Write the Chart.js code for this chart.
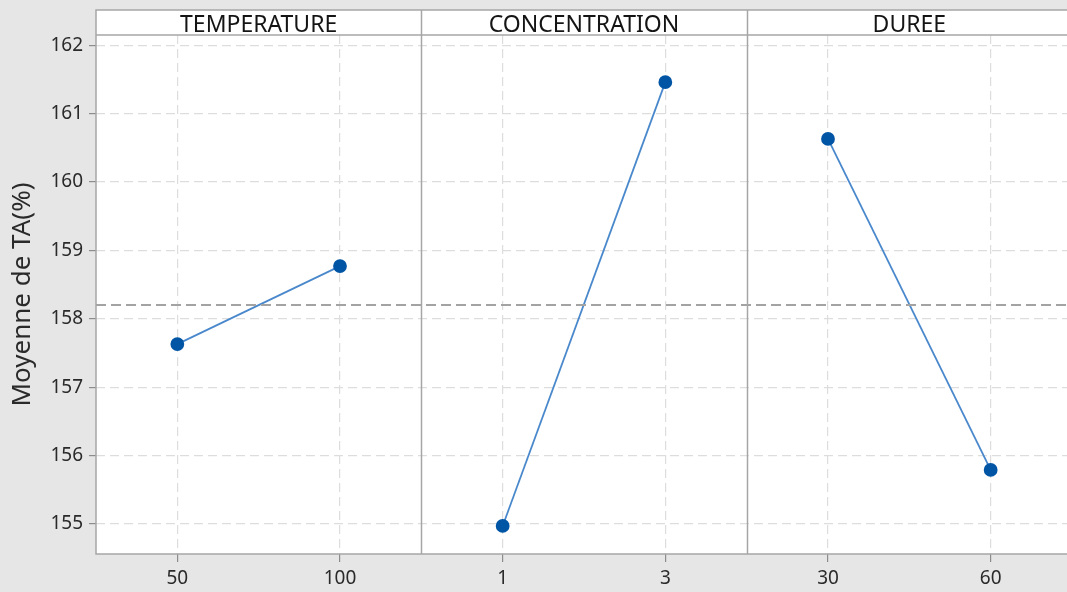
<!DOCTYPE html>
<html><head><meta charset="utf-8">
<script src="https://cdn.jsdelivr.net/npm/chart.js@4.4.1/dist/chart.umd.min.js"></script>
<style>
html,body{margin:0;padding:0;background:#e6e6e6;overflow:hidden;width:1067px;height:592px;}
canvas{display:block;}
</style></head><body>
<canvas id="c" width="1080" height="592"></canvas>
<script>
const factors = ['TEMPERATURE', 'CONCENTRATION', 'DUREE'];
const levels = [['50', '100'], ['1', '3'], ['30', '60']];
const means = [[157.63, 158.77], [154.97, 161.46], [160.63, 155.79]];
const grandMean = 158.2;
const yTicks = [155, 156, 157, 158, 159, 160, 161, 162];
const yMin = 154.56, yMax = 162.15;

const xTickLabels = levels.flat();
const xTickPos = [];
factors.forEach((f, p) => levels[p].forEach((l, i) => xTickPos.push(p + 0.25 + i * 0.5)));

const datasets = factors.map((f, p) => ({
  label: f,
  data: means[p].map((v, i) => ({x: p + 0.25 + i * 0.5, y: v})),
  borderColor: '#4a88cc',
  borderWidth: 1.8,
  pointBackgroundColor: '#0055a5',
  pointBorderColor: '#0055a5',
  pointRadius: 6,
  pointHoverRadius: 6,
  tension: 0
}));
datasets.unshift({
  label: 'mean',
  data: [{x: 0, y: grandMean}, {x: factors.length, y: grandMean}],
  borderColor: '#a3a3a3',
  borderWidth: 2,
  borderDash: [10, 5],
  pointRadius: 0
});

const panelPlugin = {
  id: 'panels',
  beforeDraw(chart) {
    const {ctx, chartArea: a} = chart;
    ctx.save();
    ctx.fillStyle = '#e6e6e6';
    ctx.fillRect(0, 0, chart.width, chart.height);
    ctx.fillStyle = '#ffffff';
    ctx.fillRect(a.left, 10, a.right - a.left, a.bottom - 10);
    ctx.restore();
  },
  afterDraw(chart) {
    const {ctx, chartArea: a, scales: {x}} = chart;
    ctx.save();
    ctx.strokeStyle = '#a6a6a6';
    ctx.lineWidth = 1.5;
    ctx.strokeRect(a.left, 10, a.right - a.left, a.bottom - 10);
    ctx.beginPath();
    ctx.moveTo(a.left, a.top); ctx.lineTo(a.right, a.top);
    for (let p = 1; p < factors.length; p++) {
      const px = Math.round(x.getPixelForValue(p)) + 0.5;
      ctx.moveTo(px, 10); ctx.lineTo(px, a.bottom);
    }
    ctx.stroke();
    ctx.fillStyle = '#141414';
    ctx.font = '23px "Noto Sans"';
    ctx.textAlign = 'center';
    ctx.textBaseline = 'alphabetic';
    factors.forEach((f, p) => {
      const cx = (x.getPixelForValue(p) + x.getPixelForValue(p + 1)) / 2;
      ctx.fillText(f, cx, 32);
    });
    ctx.restore();
  }
};

new Chart(document.getElementById('c'), {
  type: 'line',
  data: {datasets},
  options: {
    responsive: false,
    animation: false,
    layout: {padding: {top: 35, right: 8, left: 0, bottom: 0}},
    plugins: {legend: {display: false}, tooltip: {enabled: false}},
    scales: {
      x: {
        type: 'linear', min: 0, max: factors.length,
        afterBuildTicks: s => { s.ticks = xTickPos.map(v => ({value: v})); },
        afterFit: s => { s.height = 38; },
        border: {display: false, dash: [9, 5]},
        grid: {color: '#dddddd', lineWidth: 1.2, drawTicks: true, tickLength: 8,
               tickColor: '#8c8c8c', tickBorderDash: [], tickWidth: 1.2},
        ticks: {
          callback: (v, i) => xTickLabels[i],
          color: '#2a2a2a', font: {family: 'Noto Sans', size: 19}, padding: 5, maxRotation: 0, autoSkip: false
        }
      },
      y: {
        min: yMin, max: yMax,
        afterBuildTicks: s => { s.ticks = yTicks.map(v => ({value: v})); },
        afterFit: s => { s.width = 96; },
        border: {display: false, dash: [9, 5]},
        grid: {color: '#dddddd', lineWidth: 1.2, drawTicks: true, tickLength: 7,
               tickColor: '#8c8c8c', tickBorderDash: [], tickWidth: 1.2},
        ticks: {color: '#2a2a2a', font: {family: 'Noto Sans', size: 19}, padding: 6},
        title: {display: true, text: 'Moyenne de TA(%)', color: '#2a2a2a',
                font: {family: 'Noto Sans', size: 26}, padding: {top: 7, bottom: 0}}
      }
    }
  },
  plugins: [panelPlugin]
});
</script>
</body></html>
